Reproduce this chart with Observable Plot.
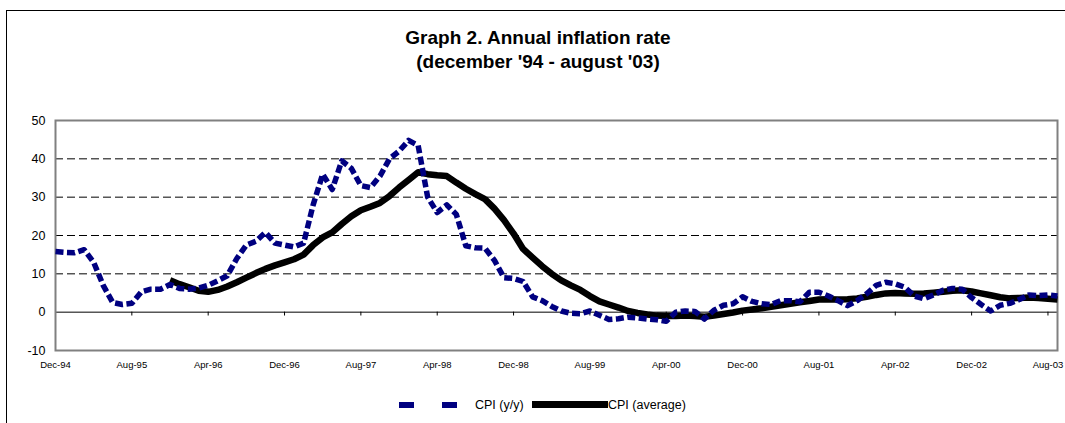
<!DOCTYPE html>
<html>
<head>
<meta charset="utf-8">
<script src="https://cdn.jsdelivr.net/npm/d3@7"></script>
<script src="https://cdn.jsdelivr.net/npm/@observablehq/plot@0.6"></script>
<style>
  html, body { margin: 0; padding: 0; background: #fff; }
  body { width: 1065px; height: 423px; position: relative; overflow: hidden; font-family: "Liberation Sans", Arial, sans-serif; }
  #frame { position: absolute; left: 6px; top: 10px; width: 1100px; height: 500px; border-left: 1.5px solid #000; border-top: 1.5px solid #000; }
  #title { position: absolute; left: 0; width: 1076px; top: 26px; text-align: center; font-weight: bold; font-size: 19px; line-height: 24px; color: #000; }
  #chart { position: absolute; left: 0; top: 0; }
  #legend { position: absolute; top: 397px; left: 0; height: 16px; font-size: 12.5px; color: #000; }
  .sw { position: absolute; }
  .lt { position: absolute; top: 0; white-space: nowrap; line-height: 16px; }
</style>
</head>
<body>
<div id="frame"></div>
<div id="chart"></div>
<div id="title">Graph 2. Annual inflation rate<br>(december '94 - august '03)</div>
<div id="legend">
  <div class="sw" style="left:399px;top:5px;width:15px;height:6px;background:#000080"></div>
  <div class="sw" style="left:442px;top:5px;width:15px;height:6px;background:#000080"></div>
  <div class="lt" style="left:475px">CPI (y/y)</div>
  <div class="sw" style="left:532px;top:4px;width:76px;height:7px;background:#000"></div>
  <div class="lt" style="left:608px">CPI (average)</div>
</div>
<script>
// Monthly observations, Dec-94 (index 0) onward
const cpiYoY = [
  15.8, 15.6, 15.5, 16.3, 13.0, 7.0, 2.5, 2.0, 2.3, 5.3, 6.0, 6.0,
  7.2, 6.2, 6.0, 6.3, 7.0, 8.2, 9.5, 14.0, 17.5, 18.5, 20.8, 18.0,
  17.5, 17.0, 18.0, 28.0, 36.0, 32.0, 39.5, 37.5, 33.0, 32.5, 35.5, 40.0,
  42.0, 44.8, 43.5, 30.0, 26.0, 28.0, 25.5, 17.3, 16.8, 16.7, 13.5, 9.0,
  8.8, 8.0, 4.0, 3.0, 1.5, 0.3, -0.3, -0.4, 0.3, -0.8, -1.9, -1.7,
  -1.3, -1.5, -1.8, -2.0, -2.4, 0.0, 0.3, 0.2, -1.8, 0.5, 1.8, 2.2,
  4.0, 2.8, 2.2, 2.0, 3.0, 3.0, 2.7, 5.2, 5.2, 4.2, 3.0, 1.7,
  3.0, 4.8, 7.0, 7.8, 7.4, 6.5, 4.2, 3.5, 4.5, 5.7, 6.2, 6.0,
  3.8, 2.0, 0.3, 1.8, 2.3, 3.3, 4.5, 4.3, 4.5, 4.2
];
// Average CPI starts at Dec-95 (index 12)
const avgStart = 12;
const cpiAvg = [
  8.3, 7.3, 6.5, 5.6, 5.3, 5.8, 6.7, 7.8, 9.0, 10.2, 11.3, 12.2,
  13.0, 13.8, 15.0, 17.5, 19.5, 20.8, 23.0, 25.0, 26.6, 27.5, 28.5, 30.3,
  32.5, 34.5, 36.5, 36.0, 35.7, 35.5, 33.8, 32.2, 30.8, 29.5, 27.0, 24.0,
  20.5, 16.5, 14.2, 12.0, 10.0, 8.3, 7.0, 5.8, 4.2, 2.8, 2.0, 1.2,
  0.3, -0.2, -0.6, -0.9, -1.0, -1.0, -0.9, -1.0, -1.2, -0.9, -0.5, -0.1,
  0.4, 0.7, 1.0, 1.4, 1.8, 2.2, 2.6, 2.9, 3.3, 3.4, 3.3, 3.4,
  3.6, 4.0, 4.5, 4.9, 5.0, 4.9, 4.8, 4.9, 5.1, 5.3, 5.6, 5.7,
  5.4, 4.9, 4.4, 3.9, 3.6, 3.7, 3.8, 3.7, 3.5, 3.3
];
const tickLabels = ["Dec-94","Aug-95","Apr-96","Dec-96","Aug-97","Apr-98","Dec-98","Aug-99","Apr-00","Dec-00","Aug-01","Apr-02","Dec-02","Aug-03"];
const tickStep = 8;
const yTicks = [-10, 0, 10, 20, 30, 40, 50];
const gridValues = [10, 20, 30, 40];

const yoyData = cpiYoY.map((v, i) => ({i, v}));
const avgData = cpiAvg.map((v, k) => ({i: k + avgStart, v}));
const tickIdx = tickLabels.map((_, k) => k * tickStep);

const chart = Plot.plot({
  width: 1065,
  height: 380,
  marginLeft: 55,
  marginRight: 8,
  marginTop: 120,
  marginBottom: 30,
  style: {fontFamily: "'Liberation Sans', Arial, sans-serif", background: "transparent", overflow: "visible"},
  x: {domain: [0, cpiYoY.length - 1], label: null},
  y: {domain: [-10, 50], label: null},
  marks: [
    Plot.ruleY(gridValues, {stroke: "#000", strokeWidth: 1, strokeDasharray: "8,4"}),
    Plot.ruleY([0], {stroke: "#000", strokeWidth: 1}),
    Plot.ruleX(tickIdx, {y1: 0, y2: -1, stroke: "#000", strokeWidth: 1}),
    Plot.frame({stroke: "#808080", strokeWidth: 2}),
    Plot.line(avgData, {x: "i", y: "v", stroke: "#000", strokeWidth: 6.5, strokeLinejoin: "round", strokeLinecap: "butt"}),
    Plot.line(yoyData, {x: "i", y: "v", stroke: "#000080", strokeWidth: 5.5, strokeDasharray: "8,3.5", strokeLinejoin: "round", strokeLinecap: "butt"}),
    Plot.axisY({ticks: yTicks, tickSize: 0, tickPadding: 10, fontSize: 12.5, label: null, tickFormat: d => String(d)}),
    Plot.axisX({ticks: tickIdx, tickSize: 0, tickPadding: 11, fontSize: 9.5, label: null, tickFormat: d => tickLabels[d / tickStep]})
  ]
});
document.getElementById("chart").appendChild(chart);
</script>
</body>
</html>
